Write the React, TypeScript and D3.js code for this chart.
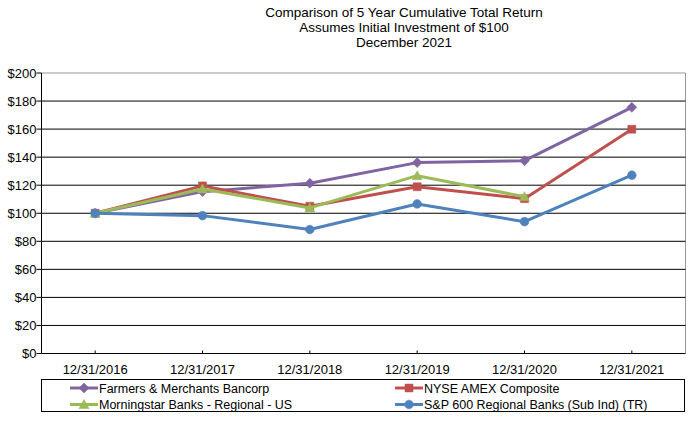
import React from "react";
import * as d3 from "d3";

const categories = ["12/31/2016", "12/31/2017", "12/31/2018", "12/31/2019", "12/31/2020", "12/31/2021"];
const farmers = [100, 115.4, 121.4, 136.1, 137.5, 175.5];
const nyse = [100, 119.5, 105.0, 118.9, 110.4, 159.9];
const morningstar: (number | null)[] = [100, 117.3, 103.8, 126.8, 111.8, null];
const sp600 = [100, 98.3, 88.4, 106.6, 94.0, 127.1];
const yTicks = [0, 20, 40, 60, 80, 100, 120, 140, 160, 180, 200];
const titleLines = ["Comparison of 5 Year Cumulative Total Return", "Assumes Initial Investment of $100", "December 2021"];

const series = [
  { name: "Farmers & Merchants Bancorp", values: farmers, color: "#8064A2", marker: "diamond" },
  { name: "NYSE AMEX Composite", values: nyse, color: "#C0504D", marker: "square" },
  { name: "Morningstar Banks - Regional - US", values: morningstar, color: "#9BBB59", marker: "triangle" },
  { name: "S&P 600 Regional Banks (Sub Ind) (TR)", values: sp600, color: "#4F81BD", marker: "circle" },
];

const W = 693, H = 421;
const left = 41.5, right = 685.5, top = 73, bottom = 353.5;

function markerPath(type: string): string {
  if (type === "diamond") return "M0,-5L5,0L0,5L-5,0Z";
  if (type === "square") return "M-4,-4H4V4H-4Z";
  if (type === "triangle") return "M0,-5L5,4L-5,4Z";
  return d3.symbol().type(d3.symbolCircle).size(60)() || "";
}

function Marker({ type, x, y, color }: { type: string; x: number; y: number; color: string }) {
  return <path d={markerPath(type)} transform={`translate(${x},${y})`} fill={color} stroke={color} strokeWidth={0.5} />;
}

export default function App() {
  const x = d3.scaleBand().domain(categories).range([left, right]);
  const y = d3.scaleLinear().domain([0, 200]).range([bottom, top]);
  const cx = (c: string) => (x(c) as number) + x.bandwidth() / 2;
  const font = "'Liberation Sans', Arial, sans-serif";

  return (
    <svg width={W} height={H} style={{ position: "absolute", left: 0, top: 0, background: "#fff" }} fontFamily={font}>
      <rect x={0} y={0} width={W} height={H} fill="#fff" />
      {titleLines.map((t, i) => (
        <text key={i} x={404} y={17 + i * 15} textAnchor="middle" fontSize={13.5} fill="#000">{t}</text>
      ))}
      {/* plot border */}
      <line x1={left} x2={right} y1={top} y2={top} stroke="#999" strokeWidth={1} />
      <line x1={right} x2={right} y1={top} y2={bottom} stroke="#999" strokeWidth={1} />
      {yTicks.map((t) => (
        <g key={t}>
          {t > 0 && t < 200 && <line x1={left} x2={right} y1={y(t)} y2={y(t)} stroke="#000" strokeWidth={1} />}
          <line x1={left - 5} x2={left} y1={y(t)} y2={y(t)} stroke="#000" strokeWidth={1} />
          <text x={36.5} y={y(t) + 4.5} textAnchor="end" fontSize={13} fill="#000">{`$${t}`}</text>
        </g>
      ))}
      <line x1={left} x2={left} y1={top} y2={bottom} stroke="#000" strokeWidth={1} />
      <line x1={left} x2={right} y1={bottom} y2={bottom} stroke="#000" strokeWidth={1} />
      {categories.map((c) => (
        <g key={c}>
          <line x1={cx(c)} x2={cx(c)} y1={bottom} y2={bottom - 3} stroke="#000" />
          <text x={cx(c)} y={374} textAnchor="middle" fontSize={13} fill="#000">{c}</text>
        </g>
      ))}
      {series.map((s) => {
        const line = d3
          .line<number | null>()
          .defined((d) => d !== null)
          .x((_, i) => cx(categories[i]))
          .y((d) => y(d as number));
        return (
          <g key={s.name}>
            <path d={line(s.values) || ""} fill="none" stroke={s.color} strokeWidth={3} strokeLinejoin="round" />
            {s.values.map((v, i) =>
              v === null ? null : <Marker key={i} type={s.marker} x={cx(categories[i])} y={y(v)} color={s.color} />
            )}
          </g>
        );
      })}
      {/* legend */}
      <rect x={41.5} y={379.5} width={643} height={32} fill="#fff" stroke="#000" strokeWidth={1} />
      {series.map((s, i) => {
        const col = i % 2;
        const row = Math.floor(i / 2);
        const lx = col === 0 ? 70 : 395;
        const ly = 388 + row * 16.5;
        return (
          <g key={s.name}>
            <line x1={lx} x2={lx + 28} y1={ly} y2={ly} stroke={s.color} strokeWidth={3} />
            <Marker type={s.marker} x={lx + 14} y={ly} color={s.color} />
            <text x={lx + 29} y={ly + 4.5} fontSize={12.5} fill="#000">{s.name}</text>
          </g>
        );
      })}
    </svg>
  );
}
